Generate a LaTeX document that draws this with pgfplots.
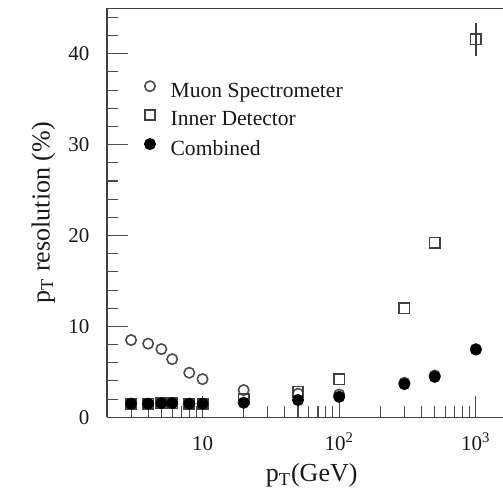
\documentclass[border=0pt]{standalone}
\usepackage{fontspec}
\setmainfont{Liberation Serif}
\usepackage{pgfplots}
\pgfplotsset{compat=1.18}
\usepackage{pgfplotstable}

\pgfplotstableread{
x     y
3     8.5
4     8.1
5     7.5
6     6.4
8     4.9
10    4.2
20    3.0
50    2.6
100   2.5
300   3.8
500   4.6
1000  7.5
}\muon

\pgfplotstableread{
x     y     e
3     1.5   0
4     1.5   0
5     1.55  0
6     1.55  0
8     1.5   0
10    1.5   0
20    2.0   0
50    2.8   0
100   4.2   0
300   12.0  0
500   19.2  0
1000  41.6  1.8
}\inner

\pgfplotstableread{
x     y
3     1.5
4     1.5
5     1.55
6     1.55
8     1.5
10    1.5
20    1.6
50    1.9
100   2.25
300   3.65
500   4.45
1000  7.45
}\comb

\begin{document}
\begin{tikzpicture}
\begin{semilogxaxis}[
  name=ax,
  scale only axis,
  width=198pt, height=204.5pt,
  xmin=2, xmax=1580,
  ymin=0, ymax=45,
  axis x line=box, axis y line=left,
  axis line style={-, draw=black!75, line width=0.7pt},
  every outer y axis line/.append style={-},
  every outer x axis line/.append style={-},
  xtick pos=bottom, ytick pos=left,
  tick align=inside,
  xtick={10,100,1000},
  xticklabels={10,10\textsuperscript{2},10\textsuperscript{3}},
  minor xtick={3,4,5,6,7,8,9,20,30,40,50,60,70,80,90,200,300,400,500,600,700,800,900},
  ytick={0,10,20,30,40},
  minor ytick={2,4,6,8,12,14,16,18,22,24,26,28,32,34,36,38,42,44},
  major tick length=10.5pt,
  minor tick length=5.5pt,
  every tick/.style={black!70, line width=0.55pt},
  /pgf/number format/assume math mode=true,
  tick label style={font=\fontsize{10.5}{12}\selectfont, black!90},
  xticklabel style={anchor=base, inner sep=0pt, yshift=-16.5pt},
  yticklabel style={anchor=east, inner sep=0pt, xshift=-8.6pt},
  xlabel={p\textsubscript{T}(GeV)},
  ylabel={p\textsubscript{T} resolution (\%)},
  label style={font=\fontsize{13}{15}\selectfont, black!90},
  xlabel style={at={(axis description cs:0.517,-0.1575)}, anchor=base},
  ylabel style={at={(axis description cs:-0.1452,0.5)}, anchor=base},
  legend cell align=left,
  legend image code/.code={\draw[#1] plot coordinates {(0pt,3pt)};},
  legend style={
    at={(axis description cs:0.0944,0.8222)}, anchor=north west,
    draw=none, fill=none, inner sep=0pt, outer sep=0pt,
    font=\fontsize{10.8}{12}\selectfont,
    nodes={inner sep=0pt, text height=7.5pt, text depth=2.5pt, text=black!90},
    row sep=3.75pt, column sep=7.5pt,
  },
]
\addplot[only marks, mark=o, mark size=2.6pt, black!70, line width=0.8pt]
  table[x=x, y=y] {\muon};
\addlegendentry{Muon Spectrometer}
\addplot[only marks, mark=square, mark size=2.6pt, black!75, line width=0.8pt,
  error bars/.cd, y dir=both, y explicit, error mark=none,
  error bar style={line width=0.7pt, black!75}]
  table[x=x, y=y, y error=e] {\inner};
\addlegendentry{Inner Detector}
\addplot[only marks, mark=*, mark size=2.8pt, black]
  table[x=x, y=y] {\comb};
\addlegendentry{Combined}
\end{semilogxaxis}
\pgfresetboundingbox
\path (ax.south west) ++(-53.5pt,-34.85pt) rectangle ++(251.5pt,243.5pt);
\end{tikzpicture}
\end{document}
